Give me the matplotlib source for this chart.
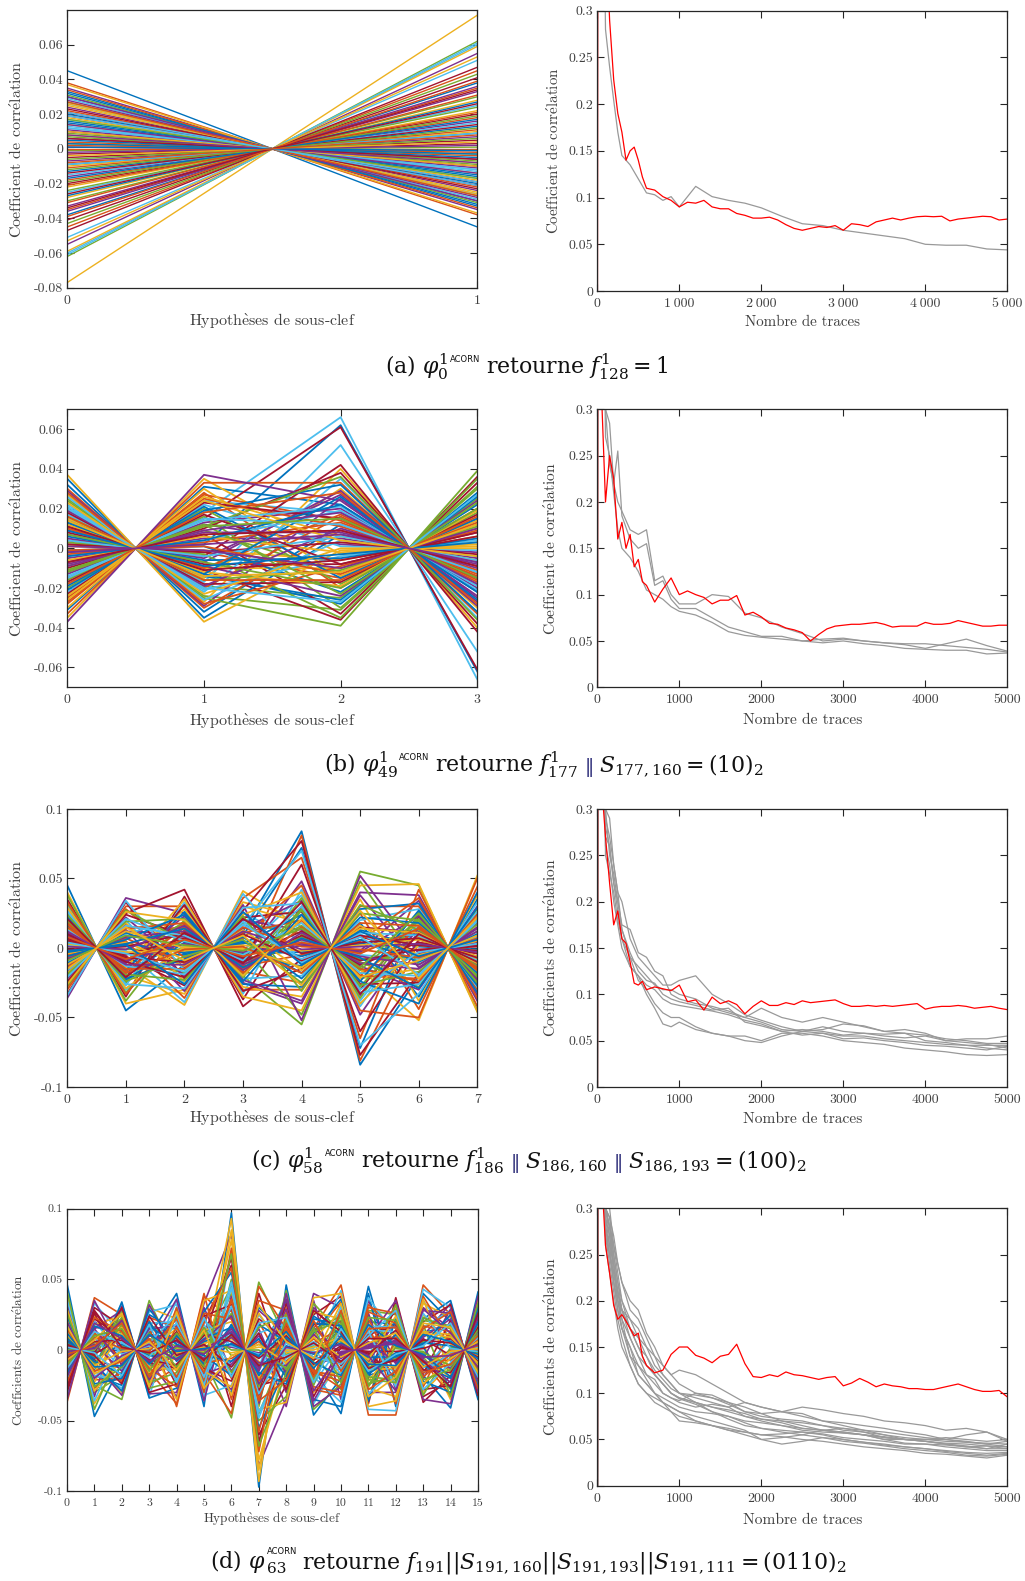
import matplotlib

matplotlib.use("Agg")
import matplotlib.pyplot as plt


W, H = 1025, 1581

plt.rcParams["font.family"] = ["cmr10", "DejaVu Serif"]
plt.rcParams["mathtext.fontset"] = "cm"

TEXT_COLOR = "#404040"
EDGE_COLOR = "#262626"
GREY = "#999999"
RED = "#ff0000"
NAVY = "#2e2e7a"
BLACK = "#111111"
MATLAB_COLORS = ["#0072BD", "#D95319", "#EDB120", "#7E2F8E", "#77AC30", "#4DBEEE", "#A2142F"]

# ---- left panels: correlation per sub-key hypothesis ----
# value at each even hypothesis; the odd neighbour is its opposite
HYP_A_X0 = [0.045, 0.038, -0.077, 0.035, -0.062, 0.012, -0.020, 0.030, 0.004, -0.010,
            0.024, -0.030, 0.017, -0.003, 0.033, -0.045, 0.008, -0.016, 0.027, -0.025,
            0.001, 0.020, -0.035, 0.014, -0.007, 0.031, -0.051, 0.010, -0.013, 0.022,
            -0.028, 0.006, -0.001, 0.029, -0.041, 0.016, -0.018, 0.025, -0.033, 0.003,
            -0.060, 0.019, -0.009, 0.034, -0.022, 0.011, -0.043, 0.026, -0.005, 0.015,
            -0.031, 0.037, -0.055, 0.009, -0.015, 0.021, -0.038, 0.002, -0.059, 0.028,
            -0.024, 0.013, -0.047, 0.032, -0.011, 0.018, -0.036, 0.007, -0.061, 0.023,
            -0.027, 0.000, -0.053, 0.030, -0.019, 0.012, -0.034, 0.005, -0.039, 0.026,
            0.014, -0.006, 0.021, -0.014, 0.003, -0.021, 0.010, -0.002, 0.017, -0.009,
            0.006, -0.017, 0.027, -0.004, 0.008, -0.012, 0.019, -0.026, 0.001, -0.008]

HYP_B_X0 = [0.032, -0.028, 0.015, -0.005, 0.024, -0.018, 0.008, -0.031,
            0.002, 0.027, -0.012, 0.019, -0.024, 0.011, -0.002, 0.030,
            -0.035, 0.005, -0.009, 0.022, -0.015, 0.013, -0.027, 0.001,
            0.029, -0.020, 0.017, -0.007, 0.035, -0.033, 0.010, -0.013,
            0.025, -0.022, 0.004, -0.001, 0.020, -0.030, 0.007, -0.016,
            0.026, -0.010, 0.014, -0.025, 0.037, -0.037, 0.003, -0.004,
            0.018, -0.019, 0.028, -0.026, 0.009, -0.011, 0.021, -0.023,
            0.006, -0.003, 0.012, -0.008, 0.016, -0.014, 0.002, -0.021,
            0.010, -0.006, 0.019, -0.012, 0.004, -0.017, 0.013, -0.001,
            0.023, -0.009, 0.007, -0.015, 0.011, -0.004, 0.016, -0.024,
            0.001, -0.011, 0.020, -0.007, 0.009, -0.018, 0.014, -0.002]
HYP_B_X2 = [0.012, -0.020, 0.030, 0.005, -0.031, 0.066, -0.008, 0.022,
            -0.015, 0.040, 0.002, -0.025, 0.018, -0.036, 0.062, 0.009,
            -0.003, 0.027, -0.012, 0.035, 0.061, -0.028, 0.014, -0.006,
            0.025, -0.018, 0.052, -0.033, 0.007, 0.033, -0.010, 0.020,
            -0.039, 0.001, 0.042, -0.022, 0.016, -0.014, 0.029, -0.030,
            0.004, 0.038, -0.026, 0.011, -0.001, 0.024, -0.035, 0.019,
            -0.017, 0.032, -0.009, 0.006, -0.024, 0.036, -0.004, 0.015,
            -0.005, 0.013, -0.019, 0.008, -0.011, 0.021, 0.003, -0.015,
            0.017, -0.002, 0.010, -0.023, 0.006, -0.008, 0.026, -0.013,
            0.000, 0.018, -0.020, 0.012, -0.006, 0.022, -0.016, 0.004,
            -0.010, 0.015, -0.027, 0.009, -0.003, 0.028, -0.012, 0.007]

HYP_C_X0 = [0.045, -0.030, 0.012, -0.008, 0.025, -0.020, 0.035, 0.004,
            -0.015, 0.020, -0.036, 0.008, 0.030, -0.025, 0.015, -0.002,
            0.040, -0.012, 0.001, 0.027, -0.033, 0.018, -0.005, 0.010,
            -0.022, 0.032, -0.010, 0.006, 0.023, -0.028, 0.014, -0.017,
            0.038, 0.002, -0.024, 0.016, -0.007, 0.029, -0.013, 0.009,
            -0.034, 0.021, -0.003, 0.033, -0.018, 0.011, -0.027, 0.026,
            0.005, -0.011, 0.017, -0.004, 0.009, -0.019, 0.013, -0.001,
            0.022, -0.014, 0.003, -0.008, 0.019, -0.021, 0.007, -0.006,
            0.015, -0.012, 0.001, 0.024, -0.016, 0.010, -0.003, 0.018,
            -0.026, 0.012, -0.009, 0.004, 0.021, -0.002, 0.008, -0.015]
HYP_C_X2 = [-0.012, 0.030, -0.041, 0.008, 0.020, -0.025, 0.037, -0.005,
            0.014, -0.033, 0.025, -0.018, 0.002, 0.042, -0.009, 0.017,
            -0.030, 0.010, -0.001, 0.033, -0.022, 0.006, -0.036, 0.028,
            -0.014, 0.012, 0.022, -0.027, 0.004, -0.007, 0.035, -0.020,
            0.016, -0.039, 0.009, 0.026, -0.011, 0.001, -0.031, 0.019,
            -0.016, 0.031, -0.003, 0.013, -0.024, 0.023, 0.005, -0.029,
            0.007, -0.004, 0.015, -0.013, 0.003, 0.021, -0.019, 0.010,
            -0.008, 0.018, -0.002, 0.012, -0.023, 0.005, -0.010, 0.024,
            -0.015, 0.000, 0.016, -0.006, 0.009, -0.021, 0.014, -0.001,
            0.020, -0.012, 0.002, -0.017, 0.011, -0.026, 0.006, -0.009]
HYP_C_X4 = [0.084, -0.030, 0.015, 0.048, -0.055, 0.005, 0.030, -0.018,
            0.081, 0.022, -0.040, 0.010, 0.038, -0.008, 0.072, -0.025,
            0.018, 0.002, -0.048, 0.042, 0.026, -0.013, 0.065, -0.035,
            0.034, 0.008, -0.020, 0.077, -0.003, 0.045, -0.045, 0.013,
            0.028, -0.010, 0.060, -0.028, 0.020, 0.004, -0.052, 0.036,
            0.070, -0.015, 0.024, -0.005, 0.040, -0.038, 0.016, 0.032,
            0.012, -0.006, 0.020, -0.016, 0.003, 0.027, -0.011, 0.009,
            -0.022, 0.015, -0.002, 0.006, -0.031, 0.018, -0.009, 0.024,
            0.001, -0.014, 0.011, -0.025, 0.030, -0.004, 0.007, -0.018,
            0.021, -0.001, 0.014, -0.008, 0.033, -0.012, 0.004, -0.027]
HYP_C_X6 = [-0.020, 0.030, -0.052, 0.012, 0.045, -0.008, 0.022, -0.035,
            0.004, -0.015, 0.038, -0.028, 0.016, -0.002, 0.026, -0.044,
            0.008, 0.034, -0.012, 0.019, -0.025, 0.001, 0.042, -0.038,
            0.014, -0.006, 0.028, -0.018, 0.010, -0.050, 0.046, -0.030,
            0.020, -0.010, 0.006, 0.032, -0.022, 0.017, -0.004, 0.024,
            -0.033, 0.011, -0.040, 0.036, 0.002, -0.014, 0.021, -0.026,
            0.004, -0.010, 0.015, -0.005, 0.023, -0.017, 0.009, -0.001,
            0.018, -0.024, 0.006, -0.012, 0.013, -0.020, 0.002, 0.027,
            -0.007, 0.011, -0.015, 0.020, -0.003, 0.007, -0.029, 0.016,
            -0.009, 0.003, 0.025, -0.019, 0.010, -0.006, 0.014, -0.022]

HYP_D_X0 = [0.047, -0.037, 0.012, -0.020, 0.030, 0.004, -0.028, 0.018,
            -0.008, 0.038, -0.015, 0.025, -0.033, 0.007, -0.002, 0.021,
            -0.024, 0.033, -0.011, 0.015, -0.030, 0.001, 0.027, -0.018,
            0.009, -0.005, 0.036, -0.026, 0.014, -0.013, 0.023, -0.035,
            0.005, 0.019, -0.022, 0.010, -0.003, 0.029, -0.016, 0.042,
            -0.009, 0.002,
            0.006, -0.012, 0.016, -0.004, 0.010, -0.020, 0.003, 0.024,
            -0.009, 0.013, -0.015, 0.000, 0.019, -0.006, 0.008, -0.023,
            0.011, -0.001, 0.026, -0.013, 0.004, -0.017, 0.015, -0.007,
            0.020, -0.010, 0.002, -0.027, 0.012, -0.003, 0.017, -0.019]
HYP_D_X2 = [-0.010, 0.025, -0.030, 0.008, -0.018, 0.033, 0.002, -0.025,
            0.015, -0.004, 0.028, -0.035, 0.011, -0.013, 0.020, -0.021,
            0.005, 0.031, -0.008, -0.027, 0.017, 0.000, -0.016, 0.024,
            -0.032, 0.013, 0.006, -0.011, 0.034, -0.023, 0.019, -0.002,
            0.027, -0.019, 0.009, -0.029, 0.022, -0.006, 0.014, 0.003,
            -0.014, 0.030,
            0.004, -0.007, 0.012, -0.015, 0.018, -0.003, 0.009, -0.020,
            0.001, 0.016, -0.010, 0.023, -0.005, 0.007, -0.017, 0.013,
            -0.001, 0.021, -0.012, 0.005, -0.024, 0.010, -0.008, 0.026,
            -0.004, 0.015, -0.018, 0.002, -0.011, 0.019, -0.006, 0.008]
HYP_D_X4 = [0.040, -0.012, 0.022, -0.033, 0.006, 0.030, -0.020, 0.014,
            -0.038, 0.001, 0.026, -0.007, 0.035, -0.025, 0.010, -0.015,
            0.019, -0.030, 0.003, 0.032, -0.010, 0.024, -0.040, 0.012,
            -0.003, 0.028, -0.018, 0.008, -0.027, 0.016, -0.005, 0.036,
            -0.022, 0.020, -0.013, 0.004, 0.030, -0.035, 0.011, -0.001,
            0.018, -0.024,
            -0.006, 0.009, -0.014, 0.017, 0.002, -0.021, 0.013, -0.008,
            0.022, -0.002, 0.006, -0.016, 0.025, -0.011, 0.004, -0.026,
            0.015, 0.000, -0.012, 0.019, -0.004, 0.010, -0.019, 0.027,
            -0.007, 0.012, -0.023, 0.007, -0.001, 0.016, -0.014, 0.003]
HYP_D_X6 = [0.097, -0.020, 0.035, 0.082, -0.048, 0.012, 0.060, -0.030,
            0.022, 0.093, -0.008, 0.045, 0.070, -0.040, 0.005, 0.028,
            0.085, -0.015, 0.040, -0.025, 0.065, 0.018, -0.035, 0.078,
            0.002, 0.050, -0.012, 0.030, 0.055, -0.045, 0.008, 0.038,
            -0.004, 0.015, 0.025, -0.018, 0.072, 0.042, -0.028, 0.010,
            0.048, 0.032,
            0.012, -0.006, 0.020, -0.010, 0.026, 0.003, -0.022, 0.016,
            0.035, -0.002, 0.009, -0.016, 0.044, 0.006, -0.008, 0.022,
            -0.026, 0.013, 0.000, 0.031, -0.012, 0.018, 0.058, -0.004,
            0.024, 0.068, -0.019, 0.011, 0.004, 0.036, -0.032, 0.015]
HYP_D_X8 = [0.046, -0.015, 0.020, -0.035, 0.008, 0.038, -0.025, 0.013,
            -0.005, 0.030, -0.040, 0.002, 0.024, -0.018, 0.035, -0.010,
            0.017, -0.030, 0.042, -0.001, 0.010, -0.022, 0.028, -0.008,
            0.005, -0.033, 0.019, 0.033, -0.012, 0.015, -0.027, 0.040,
            -0.003, 0.022, -0.020, 0.006, 0.026, -0.037, 0.011, -0.014,
            0.001, 0.018,
            0.003, -0.008, 0.012, -0.016, 0.021, -0.004, 0.007, -0.024,
            0.016, 0.000, -0.011, 0.025, -0.006, 0.010, -0.019, 0.014,
            -0.002, 0.029, -0.013, 0.005, -0.028, 0.009, 0.019, -0.009,
            0.002, -0.016, 0.023, -0.005, 0.013, -0.021, 0.006, 0.036]
HYP_D_X10 = [-0.020, 0.046, 0.010, -0.035, 0.025, -0.005, 0.038, -0.045,
             0.015, -0.012, 0.030, -0.028, 0.004, 0.020, -0.040, 0.034,
             -0.016, 0.008, -0.024, 0.042, -0.002, 0.018, -0.032, 0.027,
             -0.008, 0.012, -0.037, 0.002, 0.036, -0.019, 0.022, -0.026,
             0.006, 0.031, -0.011, 0.016, -0.030, 0.040, -0.004, 0.024,
             -0.014, 0.009,
             0.005, -0.009, 0.014, -0.003, 0.019, -0.017, 0.001, 0.011,
             -0.022, 0.007, -0.006, 0.026, -0.013, 0.003, 0.017, -0.027,
             0.009, -0.001, 0.021, -0.010, 0.013, -0.018, 0.028, -0.005,
             0.004, -0.023, 0.015, -0.008, 0.010, -0.015, 0.033, -0.002]
HYP_D_X12 = [0.018, -0.046, 0.030, -0.010, 0.005, -0.035, 0.037, -0.022,
             0.012, -0.004, -0.030, 0.025, -0.016, 0.033, -0.040, 0.008,
             -0.025, 0.020, 0.001, -0.043, 0.028, -0.012, 0.015, -0.033,
             0.035, -0.006, 0.010, -0.020, 0.022, -0.038, 0.003, -0.028,
             0.032, -0.014, 0.017, -0.002, 0.026, -0.036, 0.006, -0.018,
             0.013, -0.008,
             -0.005, 0.009, -0.013, 0.004, -0.021, 0.016, -0.001, 0.011,
             -0.017, 0.024, -0.009, 0.002, -0.026, 0.014, -0.004, 0.019,
             -0.012, 0.007, -0.023, 0.028, -0.007, 0.003, -0.015, 0.012,
             -0.029, 0.021, -0.003, 0.008, -0.011, 0.016, -0.019, 0.005]
HYP_D_X14 = [-0.041, 0.025, -0.010, 0.033, -0.028, 0.008, -0.018, 0.035,
             0.000, -0.035, 0.015, -0.005, 0.028, -0.022, 0.020, -0.032,
             0.004, 0.012, -0.015, 0.030, -0.025, 0.018, -0.002, 0.023,
             -0.038, 0.010, -0.012, 0.032, -0.030, 0.006, -0.020, 0.026,
             0.002, -0.008, 0.021, -0.027, 0.014, -0.017, 0.029, -0.033,
             0.007, -0.004,
             0.003, -0.007, 0.011, -0.013, 0.017, -0.002, 0.008, -0.020,
             0.013, -0.006, 0.022, -0.011, 0.001, -0.016, 0.025, -0.003,
             0.009, -0.023, 0.015, -0.009, 0.005, -0.019, 0.027, -0.001,
             0.012, -0.014, 0.019, -0.026, 0.006, -0.010, 0.016, -0.004]

# ---- right panels: correlation vs number of traces ----
GREY_X = [2, 10, 100, 150, 200, 250, 300, 400, 500, 600, 700, 800, 900, 1000, 1200, 1400,
          1600, 1800, 2000, 2250, 2500, 2750, 3000, 3250, 3500, 3750, 4000, 4250, 4500,
          4750, 5000]
RED_X = [2, 10, 50, 100, 150, 200, 250, 300, 350, 400, 450, 500, 550, 600,
         700, 800, 900, 1000, 1100, 1200, 1300, 1400, 1500, 1600,
         1700, 1800, 1900, 2000, 2100, 2200, 2300, 2400, 2500, 2600,
         2700, 2800, 2900, 3000, 3100, 3200, 3300, 3400, 3500, 3600,
         3700, 3800, 3900, 4000, 4100, 4200, 4300, 4400, 4500, 4600,
         4700, 4800, 4900, 5000]

RED_A = [0, 0.9, 0.6, 0.4, 0.29, 0.226, 0.19, 0.17, 0.14, 0.15, 0.154, 0.14, 0.122, 0.11,
         0.108, 0.101, 0.097, 0.09, 0.095, 0.094, 0.097, 0.09, 0.088, 0.088,
         0.083, 0.081, 0.078, 0.078, 0.079, 0.076, 0.071, 0.067, 0.065, 0.067,
         0.069, 0.068, 0.07, 0.065, 0.072, 0.071, 0.069, 0.074, 0.076, 0.078,
         0.076, 0.078, 0.0795, 0.08, 0.0795, 0.08, 0.075, 0.077, 0.078, 0.079,
         0.08, 0.0795, 0.076, 0.077]
RED_B = [0, 0.9, 0.32, 0.2, 0.25, 0.225, 0.16, 0.178, 0.15, 0.165, 0.13, 0.138, 0.114, 0.11,
         0.092, 0.106, 0.118, 0.1, 0.104, 0.1, 0.097, 0.09, 0.094, 0.094,
         0.099, 0.078, 0.081, 0.076, 0.069, 0.068, 0.064, 0.062, 0.059, 0.05,
         0.057, 0.063, 0.066, 0.067, 0.068, 0.068, 0.069, 0.07, 0.068, 0.065,
         0.066, 0.066, 0.066, 0.07, 0.068, 0.068, 0.069, 0.072, 0.07, 0.068,
         0.066, 0.066, 0.067, 0.067]
RED_C = [0, 0.9, 0.33, 0.27, 0.22, 0.175, 0.19, 0.16, 0.155, 0.135, 0.112, 0.11, 0.114, 0.105,
         0.108, 0.106, 0.104, 0.11, 0.092, 0.094, 0.083, 0.097, 0.09, 0.093,
         0.089, 0.079, 0.087, 0.093, 0.088, 0.088, 0.091, 0.089, 0.093, 0.091,
         0.092, 0.093, 0.094, 0.09, 0.087, 0.087, 0.088, 0.087, 0.088, 0.087,
         0.088, 0.089, 0.09, 0.084, 0.086, 0.087, 0.087, 0.088, 0.087, 0.085,
         0.086, 0.087, 0.085, 0.0835]
RED_D = [0, 0.9, 0.34, 0.26, 0.23, 0.195, 0.18, 0.185, 0.178, 0.17, 0.162, 0.165, 0.14, 0.13,
         0.122, 0.125, 0.142, 0.15, 0.15, 0.141, 0.138, 0.133, 0.14, 0.142,
         0.153, 0.132, 0.118, 0.117, 0.12, 0.118, 0.123, 0.12, 0.119, 0.117,
         0.115, 0.117, 0.118, 0.108, 0.111, 0.116, 0.112, 0.107, 0.11, 0.108,
         0.107, 0.105, 0.105, 0.104, 0.104, 0.106, 0.108, 0.11, 0.107, 0.104,
         0.102, 0.102, 0.103, 0.096]

GREY_A = [
    [0, 0.9, 0.28, 0.24, 0.204, 0.17, 0.145, 0.135, 0.12, 0.105, 0.103, 0.097, 0.101, 0.09,
     0.112, 0.101, 0.097, 0.094, 0.089, 0.08, 0.072, 0.07, 0.065, 0.062, 0.059, 0.056,
     0.05, 0.049, 0.049, 0.045, 0.044],
]
GREY_B = [
    [0, 0.9, 0.3, 0.285, 0.22, 0.2, 0.19, 0.17, 0.165, 0.17, 0.115, 0.12, 0.1, 0.09, 0.09,
     0.1, 0.098, 0.08, 0.075, 0.065, 0.058, 0.05, 0.052, 0.05, 0.048, 0.046, 0.042, 0.047,
     0.052, 0.045, 0.039],
    [0, 0.9, 0.3, 0.24, 0.22, 0.255, 0.185, 0.16, 0.15, 0.155, 0.11, 0.115, 0.095, 0.085,
     0.085, 0.075, 0.065, 0.06, 0.055, 0.055, 0.05, 0.052, 0.053, 0.05, 0.048, 0.047, 0.047,
     0.045, 0.043, 0.041, 0.038],
    [0, 0.9, 0.27, 0.25, 0.21, 0.17, 0.15, 0.14, 0.125, 0.105, 0.1, 0.095, 0.087, 0.082,
     0.078, 0.07, 0.06, 0.056, 0.054, 0.052, 0.05, 0.048, 0.05, 0.047, 0.045, 0.042, 0.041,
     0.04, 0.04, 0.036, 0.037],
]
GREY_C = [
    [0, 0.9, 0.3, 0.29, 0.24, 0.21, 0.2, 0.16, 0.14, 0.13, 0.12, 0.11, 0.11, 0.115, 0.12,
     0.1, 0.09, 0.078, 0.072, 0.065, 0.06, 0.062, 0.068, 0.066, 0.06, 0.062, 0.058, 0.05,
     0.052, 0.052, 0.055],
    [0, 0.9, 0.28, 0.26, 0.22, 0.2, 0.175, 0.17, 0.145, 0.14, 0.125, 0.12, 0.1, 0.095, 0.09,
     0.087, 0.082, 0.075, 0.085, 0.075, 0.07, 0.075, 0.07, 0.065, 0.06, 0.058, 0.05, 0.048,
     0.045, 0.045, 0.045],
    [0, 0.9, 0.26, 0.24, 0.2, 0.175, 0.15, 0.13, 0.12, 0.1, 0.085, 0.068, 0.065, 0.07, 0.062,
     0.058, 0.055, 0.05, 0.048, 0.055, 0.06, 0.058, 0.055, 0.055, 0.052, 0.05, 0.048, 0.046,
     0.045, 0.042, 0.04],
    [0, 0.9, 0.25, 0.23, 0.21, 0.18, 0.16, 0.14, 0.115, 0.105, 0.09, 0.08, 0.075, 0.075,
     0.065, 0.058, 0.055, 0.055, 0.05, 0.058, 0.058, 0.055, 0.05, 0.048, 0.046, 0.042, 0.04,
     0.038, 0.035, 0.034, 0.035],
    [0, 0.9, 0.3, 0.25, 0.23, 0.2, 0.17, 0.14, 0.13, 0.12, 0.11, 0.105, 0.105, 0.1, 0.095,
     0.085, 0.08, 0.075, 0.07, 0.062, 0.06, 0.065, 0.06, 0.058, 0.057, 0.058, 0.056, 0.052,
     0.05, 0.047, 0.047],
    [0, 0.9, 0.29, 0.27, 0.24, 0.21, 0.17, 0.145, 0.125, 0.115, 0.112, 0.1, 0.095, 0.092,
     0.088, 0.083, 0.085, 0.07, 0.066, 0.06, 0.062, 0.06, 0.056, 0.058, 0.055, 0.053, 0.055,
     0.05, 0.048, 0.046, 0.042],
    [0, 0.9, 0.27, 0.26, 0.22, 0.19, 0.16, 0.13, 0.12, 0.11, 0.105, 0.095, 0.09, 0.088,
     0.085, 0.082, 0.078, 0.072, 0.068, 0.06, 0.056, 0.058, 0.052, 0.053, 0.05, 0.048, 0.045,
     0.044, 0.042, 0.04, 0.044],
]
GREY_D = [
    [0, 0.9, 0.3, 0.28, 0.25, 0.22, 0.2, 0.17, 0.15, 0.13, 0.12, 0.11, 0.1, 0.095, 0.09,
     0.085, 0.082, 0.078, 0.072, 0.068, 0.062, 0.06, 0.057, 0.055, 0.053, 0.05, 0.048,
     0.046, 0.045, 0.043, 0.042],
    [0, 0.9, 0.29, 0.26, 0.24, 0.21, 0.18, 0.16, 0.14, 0.12, 0.115, 0.1, 0.095, 0.092, 0.1,
     0.098, 0.09, 0.08, 0.078, 0.08, 0.085, 0.082, 0.078, 0.075, 0.07, 0.068, 0.065, 0.06,
     0.062, 0.058, 0.05],
    [0, 0.9, 0.3, 0.3, 0.26, 0.24, 0.22, 0.19, 0.18, 0.16, 0.14, 0.13, 0.12, 0.125, 0.12,
     0.11, 0.1, 0.09, 0.085, 0.08, 0.075, 0.07, 0.068, 0.065, 0.062, 0.058, 0.055, 0.05,
     0.048, 0.045, 0.048],
    [0, 0.9, 0.27, 0.24, 0.21, 0.18, 0.16, 0.13, 0.11, 0.1, 0.09, 0.085, 0.08, 0.07, 0.068,
     0.065, 0.062, 0.058, 0.055, 0.056, 0.058, 0.055, 0.05, 0.047, 0.045, 0.042, 0.04,
     0.038, 0.036, 0.035, 0.036],
    [0, 0.9, 0.28, 0.25, 0.22, 0.19, 0.17, 0.15, 0.12, 0.11, 0.1, 0.09, 0.085, 0.08, 0.075,
     0.07, 0.065, 0.06, 0.05, 0.052, 0.055, 0.052, 0.048, 0.046, 0.043, 0.04, 0.038, 0.036,
     0.033, 0.032, 0.034],
    [0, 0.9, 0.3, 0.29, 0.25, 0.22, 0.19, 0.17, 0.16, 0.14, 0.125, 0.115, 0.105, 0.1, 0.095,
     0.09, 0.085, 0.075, 0.07, 0.065, 0.062, 0.06, 0.058, 0.055, 0.052, 0.05, 0.05, 0.048,
     0.047, 0.046, 0.045],
    [0, 0.9, 0.26, 0.23, 0.2, 0.17, 0.15, 0.13, 0.11, 0.1, 0.095, 0.09, 0.085, 0.08, 0.07,
     0.065, 0.06, 0.055, 0.05, 0.045, 0.048, 0.052, 0.05, 0.047, 0.044, 0.042, 0.04, 0.037,
     0.035, 0.033, 0.035],
    [0, 0.9, 0.3, 0.27, 0.23, 0.2, 0.19, 0.18, 0.17, 0.15, 0.13, 0.12, 0.11, 0.1, 0.098,
     0.095, 0.09, 0.085, 0.078, 0.07, 0.065, 0.06, 0.058, 0.055, 0.05, 0.05, 0.048, 0.045,
     0.043, 0.04, 0.04],
    [0, 0.9, 0.29, 0.27, 0.24, 0.2, 0.18, 0.14, 0.13, 0.12, 0.11, 0.1, 0.095, 0.09, 0.085,
     0.088, 0.085, 0.09, 0.085, 0.08, 0.078, 0.07, 0.065, 0.06, 0.055, 0.05, 0.048, 0.045,
     0.042, 0.04, 0.045],
    [0, 0.9, 0.28, 0.26, 0.22, 0.19, 0.17, 0.15, 0.13, 0.115, 0.1, 0.095, 0.09, 0.085, 0.08,
     0.078, 0.075, 0.07, 0.068, 0.065, 0.06, 0.058, 0.057, 0.055, 0.05, 0.046, 0.045, 0.044,
     0.042, 0.043, 0.04],
    [0, 0.9, 0.3, 0.28, 0.26, 0.23, 0.2, 0.18, 0.16, 0.15, 0.14, 0.12, 0.11, 0.1, 0.09,
     0.08, 0.075, 0.068, 0.062, 0.058, 0.055, 0.06, 0.062, 0.058, 0.052, 0.05, 0.05, 0.052,
     0.05, 0.048, 0.05],
    [0, 0.9, 0.27, 0.25, 0.22, 0.2, 0.17, 0.14, 0.12, 0.11, 0.1, 0.09, 0.08, 0.075, 0.07,
     0.065, 0.06, 0.058, 0.055, 0.053, 0.05, 0.048, 0.045, 0.042, 0.04, 0.038, 0.035,
     0.034, 0.032, 0.03, 0.033],
    [0, 0.9, 0.3, 0.28, 0.24, 0.21, 0.19, 0.16, 0.14, 0.13, 0.12, 0.11, 0.1, 0.095, 0.09,
     0.085, 0.08, 0.075, 0.072, 0.07, 0.068, 0.065, 0.06, 0.058, 0.055, 0.052, 0.05, 0.05,
     0.055, 0.058, 0.048],
    [0, 0.9, 0.28, 0.25, 0.23, 0.21, 0.19, 0.17, 0.15, 0.14, 0.12, 0.11, 0.1, 0.094, 0.088,
     0.08, 0.072, 0.065, 0.062, 0.06, 0.058, 0.056, 0.052, 0.05, 0.048, 0.045, 0.045,
     0.042, 0.04, 0.038, 0.038],
    [0, 0.9, 0.3, 0.29, 0.27, 0.24, 0.22, 0.2, 0.19, 0.165, 0.15, 0.13, 0.12, 0.11, 0.1,
     0.095, 0.088, 0.08, 0.075, 0.072, 0.07, 0.065, 0.062, 0.06, 0.058, 0.055, 0.052, 0.05,
     0.047, 0.045, 0.042],
]

TRACE_TICKS = [0, 1000, 2000, 3000, 4000, 5000]
TRACE_LABELS_THIN = ["0", "1\u2009000", "2\u2009000", "3\u2009000", "4\u2009000", "5\u2009000"]
TRACE_LABELS = ["0", "1000", "2000", "3000", "4000", "5000"]
CORR_TICKS = [0, 0.05, 0.1, 0.15, 0.2, 0.25, 0.3]

HYP_LABEL = "Hypoth$\\grave{\\mathrm{e}}$ses de sous-clef"
COEF_LABEL = "Coefficient de corr$\\acute{\\mathrm{e}}$lation"
COEFS_LABEL = "Coefficients de corr$\\acute{\\mathrm{e}}$lation"
TRACES_LABEL = "Nombre de traces"

LEFT_X = (67.3, 477.3)
RIGHT_X = (597.3, 1007.3)
CAPTION_SIZE = 15.8


def px_axes(fig, left, top, right, bottom):
    return fig.add_axes([left / W, 1 - bottom / H, (right - left) / W, (bottom - top) / H])


def style_axes(ax, xticks, xlabels, yticks, size):
    ax.set_xticks(xticks)
    ax.set_xticklabels(xlabels)
    ax.set_yticks(yticks)
    ax.set_yticklabels([f"{v + 0.0:g}" for v in yticks])
    ax.tick_params(direction="in", top=True, right=True, length=5, width=0.8,
                   color=EDGE_COLOR, labelcolor=TEXT_COLOR, labelsize=size)
    ax.tick_params(axis="x", pad=5)
    ax.tick_params(axis="y", pad=3)
    for spine in ax.spines.values():
        spine.set_color(EDGE_COLOR)
        spine.set_linewidth(0.9)


def set_labels(ax, xlabel, ylabel, size, xlabel_y, ylabel_x):
    ax.set_xlabel(xlabel, fontsize=size, color=TEXT_COLOR)
    ax.xaxis.set_label_coords(0.5, xlabel_y)
    ax.xaxis.label.set_va("center")
    ax.set_ylabel(ylabel, fontsize=size, color=TEXT_COLOR)
    ax.yaxis.set_label_coords(ylabel_x, 0.5)
    ax.yaxis.label.set_va("center")


def draw_hypotheses(ax, columns, lw):
    n = 2 * len(columns)
    xs = list(range(n))
    for i, vals in enumerate(zip(*columns)):
        ys = []
        for v in vals:
            ys += [v, -v]
        ax.plot(xs, ys, color=MATLAB_COLORS[i % len(MATLAB_COLORS)], lw=lw)
    ax.set_xlim(0, n - 1)


def draw_traces(ax, greys, red):
    for g in greys:
        ax.plot(GREY_X, g, color=GREY, lw=0.9)
    ax.plot(RED_X, red, color=RED, lw=0.9)
    ax.set_xlim(0, 5000)
    ax.set_ylim(0, 0.3)


def draw_caption(fig, x_center, baseline, pieces):
    # pieces: (text, kind, gap before in px, rise in px)
    renderer = fig.canvas.get_renderer()
    placed = []
    x = 0.0
    for text, kind, gap, rise in pieces:
        if kind == "tag":
            t = fig.text(0, 0, text, fontsize=6, color=BLACK, family="DejaVu Sans",
                         ha="left", va="baseline")
        elif kind == "sub":
            t = fig.text(0, 0, text, fontsize=CAPTION_SIZE * 0.7, color=BLACK,
                         family="DejaVu Serif", ha="left", va="baseline")
        else:
            size = CAPTION_SIZE * (0.85 if kind == "bar" else 1.0)
            color = NAVY if kind == "bar" else BLACK
            t = fig.text(0, 0, text, fontsize=size, color=color, family="DejaVu Serif",
                         math_fontfamily="dejavuserif", ha="left", va="baseline")
        width = t.get_window_extent(renderer).width
        placed.append((t, x + gap, rise))
        x += gap + width
    start = x_center - x / 2
    for t, px, rise in placed:
        t.set_position(((start + px) / W, 1 - (baseline - rise) / H))


def main():
    fig = plt.figure(figsize=(W / 100, H / 100), dpi=100)

    # (a)
    ax = px_axes(fig, LEFT_X[0], 10, LEFT_X[1], 287.7)
    draw_hypotheses(ax, [HYP_A_X0], 1.0)
    ax.set_ylim(-0.08, 0.08)
    style_axes(ax, [0, 1], ["0", "1"], [-0.08, -0.06, -0.04, -0.02, 0, 0.02, 0.04, 0.06], 10)
    set_labels(ax, HYP_LABEL, COEF_LABEL, 11.5, -0.119, -0.125)

    ax = px_axes(fig, RIGHT_X[0], 10.7, RIGHT_X[1], 291)
    draw_traces(ax, GREY_A, RED_A)
    style_axes(ax, TRACE_TICKS, TRACE_LABELS_THIN, CORR_TICKS, 10)
    set_labels(ax, TRACES_LABEL, COEF_LABEL, 10.8, -0.11, -0.107)

    # (b)
    ax = px_axes(fig, LEFT_X[0], 409.3, LEFT_X[1], 687.3)
    draw_hypotheses(ax, [HYP_B_X0, HYP_B_X2], 1.3)
    ax.set_ylim(-0.07, 0.07)
    style_axes(ax, [0, 1, 2, 3], ["0", "1", "2", "3"],
               [-0.06, -0.04, -0.02, 0, 0.02, 0.04, 0.06], 10)
    set_labels(ax, HYP_LABEL, COEF_LABEL, 11.5, -0.118, -0.125)

    ax = px_axes(fig, RIGHT_X[0], 409.3, RIGHT_X[1], 687.3)
    draw_traces(ax, GREY_B, RED_B)
    style_axes(ax, TRACE_TICKS, TRACE_LABELS, CORR_TICKS, 10)
    set_labels(ax, TRACES_LABEL, COEF_LABEL, 11.2, -0.118, -0.115)

    # (c)
    ax = px_axes(fig, LEFT_X[0], 809, LEFT_X[1], 1087)
    draw_hypotheses(ax, [HYP_C_X0, HYP_C_X2, HYP_C_X4, HYP_C_X6], 1.3)
    ax.set_ylim(-0.1, 0.1)
    style_axes(ax, list(range(8)), [str(i) for i in range(8)], [-0.1, -0.05, 0, 0.05, 0.1], 10)
    set_labels(ax, HYP_LABEL, COEF_LABEL, 11.5, -0.111, -0.125)

    ax = px_axes(fig, RIGHT_X[0], 809, RIGHT_X[1], 1087)
    draw_traces(ax, GREY_C, RED_C)
    style_axes(ax, TRACE_TICKS, TRACE_LABELS, CORR_TICKS, 10)
    set_labels(ax, TRACES_LABEL, COEFS_LABEL, 11.2, -0.116, -0.115)

    # (d)
    ax = px_axes(fig, 67, 1208.7, 478, 1491.3)
    draw_hypotheses(ax, [HYP_D_X0, HYP_D_X2, HYP_D_X4, HYP_D_X6,
                         HYP_D_X8, HYP_D_X10, HYP_D_X12, HYP_D_X14], 1.2)
    ax.set_ylim(-0.1, 0.1)
    style_axes(ax, list(range(16)), [str(i) for i in range(16)], [-0.1, -0.05, 0, 0.05, 0.1], 8.5)
    set_labels(ax, HYP_LABEL, COEFS_LABEL, 9.5, -0.10, -0.118)

    ax = px_axes(fig, RIGHT_X[0], 1208.3, RIGHT_X[1], 1485.7)
    draw_traces(ax, GREY_D, RED_D)
    style_axes(ax, TRACE_TICKS, TRACE_LABELS, CORR_TICKS, 10)
    set_labels(ax, TRACES_LABEL, COEFS_LABEL, 11.2, -0.124, -0.115)

    draw_caption(fig, 527, 374, [
        ("(a) $\\varphi_0^{1}$", "text", 0, 0),
        ("ACORN", "tag", 1, 12),
        ("retourne $f_{128}^{1} = 1$", "text", 6, 0),
    ])
    draw_caption(fig, 544, 772, [
        ("(b) $\\varphi_{49}^{1}$", "text", 0, 0),
        ("ACORN", "tag", 1, 12),
        ("retourne $f_{177}^{1}$", "text", 6, 0),
        ("$\\Vert$", "bar", 6, 0),
        ("$S_{177,160} = (10)_2$", "text", 6, 0),
    ])
    draw_caption(fig, 529, 1168, [
        ("(c) $\\varphi_{58}^{1}$", "text", 0, 0),
        ("ACORN", "tag", 1, 12),
        ("retourne $f_{186}^{1}$", "text", 6, 0),
        ("$\\Vert$", "bar", 6, 0),
        ("$S_{186,160}$", "text", 6, 0),
        ("$\\Vert$", "bar", 6, 0),
        ("$S_{186,193} = (100)_2$", "text", 6, 0),
    ])
    draw_caption(fig, 528, 1568, [
        ("(d) $\\varphi$", "text", 0, 0),
        ("63", "sub", 1, -5),
        ("ACORN", "tag", -19, 14),
        ("retourne $f_{191}||S_{191,160}||S_{191,193}||S_{191,111} = (0110)_2$",
         "text", 4, 0),
    ])

    fig.savefig("out.png", dpi=100)
    plt.close(fig)


if __name__ == "__main__":
    main()
